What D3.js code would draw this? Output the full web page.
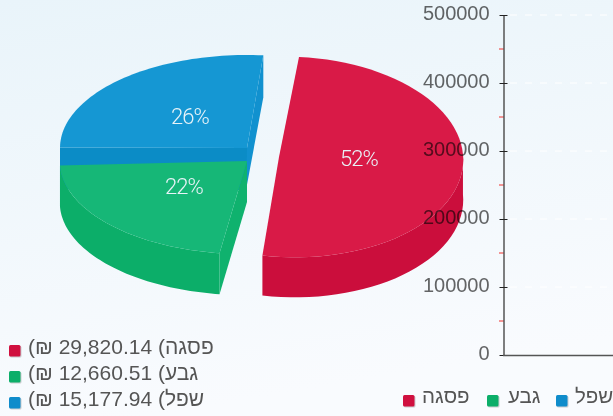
<!DOCTYPE html>
<html><head><meta charset="utf-8">
<script src="https://cdn.jsdelivr.net/npm/d3@7"></script>
<style>html,body{margin:0;padding:0;overflow:hidden;background:#f3f9fc}svg{display:block;filter:blur(.45px)}text{font-family:"Liberation Sans",Arial,sans-serif}</style>
</head><body><svg width="613" height="416"></svg>
<script>
const categories = ["פסגה", "גבע", "שפל"];
const sliceValues = [29820.14, 12660.51, 15177.94];
const topColors = ["#d91a47", "#16b777", "#1597d3"];
const wallColors = ["#cb0e3c", "#0cae69", "#0b8cc6"];
const legendColors = ["#d0103f", "#0cae69", "#0f8ccb"];
const axisTicks = [0, 100000, 200000, 300000, 400000, 500000];
const minorTicks = [50000, 150000, 250000, 350000, 450000];

const rad = Math.PI / 180;
const svg = d3.select("svg");
const defs = svg.append("defs");
const bg = defs.append("linearGradient").attr("id", "bg").attr("x1", 0).attr("y1", 0).attr("x2", 0.25).attr("y2", 1);
bg.append("stop").attr("offset", 0).attr("stop-color", "#e9f4fa");
bg.append("stop").attr("offset", 1).attr("stop-color", "#f9fbfe");
svg.append("rect").attr("width", 613).attr("height", 416).attr("fill", "url(#bg)");

// per-slice projection of the tilted, exploded 3D pie
const views = [
  {cx: 290, cy: 157, rx: 173, ry: 100, sx: 9, sy: 8, rot: -5, ax: 279, ay: 157, depth: 40},
  {cx: 247, cy: 161, rx: 187, ry: 93, sx: -9, sy: -5, rot: 0, ax: 247, ay: 161, depth: 41},
  {cx: 247, cy: 148, rx: 187, ry: 93, sx: 0, sy: 0, rot: 0, ax: 247, ay: 148, depth: 42}
];
const pie = d3.pie().sort(null).startAngle(5 * rad).endAngle(365 * rad);
const arcs = pie(sliceValues);
const total = d3.sum(sliceValues);
const line = d3.line();
const pt = (v, a, dy = 0) => [
  v.cx + v.rx * Math.sin(a) + v.sx * Math.cos(a),
  v.cy - v.ry * Math.cos(a) + v.sy * Math.sin(a) + dy
];
const samples = (a0, a1) => d3.range(0, 61).map(i => a0 + (a1 - a0) * i / 60);

const pieG = svg.append("g");
function drawSlice(i) {
  const v = views[i];
  const a0 = arcs[i].startAngle + v.rot * rad, a1 = arcs[i].endAngle + v.rot * rad;
  const g = pieG.append("g");
  const rim = samples(a0, a1);
  if (i === 2) {
    // blue: front cut band and right cut wall
    g.append("path").attr("fill", wallColors[i]).attr("d", line([
      [v.ax, v.ay], pt(v, a0), pt(v, a0, v.depth), [v.ax, v.ay + v.depth]]) + "Z");
    const e = pt(v, a1);
    g.append("path").attr("fill", "#1191cf").attr("d", line([
      [v.ax, v.ay], e, [e[0], e[1] + v.depth], [v.ax - 1, v.ay + v.depth]]) + "Z");
  }
  if (i === 1) {
    const e = pt(v, a0);
    g.append("path").attr("fill", "#0fb26e").attr("d", line([
      [v.ax, v.ay], [v.ax, v.ay + v.depth], [e[0], e[1] + v.depth], e]) + "Z");
  }
  // outer wall, only for the front half of the rim
  const wallRim = i === 2 ? [] : rim.filter(a => Math.cos(a) < 0.15);
  if (wallRim.length) {
    const front = wallRim.map(a => pt(v, a));
    const back = wallRim.map(a => pt(v, a, v.depth)).reverse();
    g.append("path").attr("fill", wallColors[i]).attr("d", line(front.concat(back)) + "Z");
  }
  g.append("path").attr("fill", topColors[i]).attr("d",
    line([[v.ax, v.ay]].concat(rim.map(a => pt(v, a)))) + "Z");
}
[2, 1, 0].forEach(drawSlice);

const pctPos = [[359, 160], [184, 188], [190, 118]];
svg.append("g").selectAll("text").data(arcs).join("text")
  .attr("x", (d, i) => pctPos[i][0]).attr("y", (d, i) => pctPos[i][1])
  .attr("text-anchor", "middle").attr("dominant-baseline", "middle")
  .attr("fill", "#e8f3f8").style("font-family", "Roboto").style("font-weight", 300)
  .style("font-size", "22px").style("letter-spacing", "-0.9px")
  .text(d => d3.format(".0%")(d.value / total));

// value axis
const y = d3.scaleLinear().domain([0, 500000]).range([355, 15]);
const grid = svg.append("g");
grid.selectAll("line").data(axisTicks.slice(1)).join("line")
  .attr("x1", 510).attr("x2", 613).attr("y1", d => y(d)).attr("y2", d => y(d))
  .attr("stroke", "#fff").attr("stroke-dasharray", "7 8");
const minor = svg.append("g");
minor.selectAll("line").data(minorTicks).join("line")
  .attr("x1", 499).attr("x2", 504).attr("y1", d => y(d)).attr("y2", d => y(d))
  .attr("stroke", "#f0332f");
const axis = svg.append("g").attr("transform", "translate(503.5,0)")
  .call(d3.axisLeft(y).tickValues(axisTicks).tickFormat(d3.format("d")).tickSize(4).tickSizeOuter(0));
axis.select(".domain").attr("stroke", "#555").attr("stroke-width", 1.5);
axis.selectAll(".tick line").attr("stroke", "#222").attr("x2", 4).attr("x1", -4);
axis.selectAll("text").attr("x", -14).attr("dy", "0.24em").attr("fill", "#666")
  .style("font-size", "20px").style("mix-blend-mode", "multiply").style("letter-spacing", "-0.05px");
svg.append("line").attr("x1", 503).attr("x2", 613).attr("y1", 355.5).attr("y2", 355.5)
  .attr("stroke", "#555").attr("stroke-width", 1.5);

// legends
const swatch = (g, x, yy, s, c) => {
  g.append("rect").attr("x", x + 1).attr("y", yy + 1).attr("width", s).attr("height", s).attr("rx", 1.5).attr("fill", "#000").attr("opacity", .18);
  g.append("rect").attr("x", x).attr("y", yy).attr("width", s).attr("height", s).attr("rx", 1.5).attr("fill", c);
};
const fmt = d3.format(",.2f");
const rowY = [351, 377, 403];
const left = svg.append("g");
categories.forEach((c, i) => {
  swatch(left, 9, rowY[i] - 6, 11.5, legendColors[i]);
  left.append("text").attr("x", 28).attr("y", rowY[i] - 2.5).attr("dominant-baseline", "middle")
    .attr("fill", "#555").style("font-size", "21px").style("direction", "ltr")
    .text("(₪ " + fmt(sliceValues[i]) + " (" + c);
});
const botX = [403, 487, 556], botT = [422, 508, 575];
const bottom = svg.append("g");
categories.forEach((c, i) => {
  swatch(bottom, botX[i], 395, 11.5, legendColors[i]);
  bottom.append("text").attr("x", botT[i]).attr("y", 398).attr("dominant-baseline", "middle")
    .attr("fill", "#555").style("font-size", "20.5px").text(c);
});
</script></body></html>
